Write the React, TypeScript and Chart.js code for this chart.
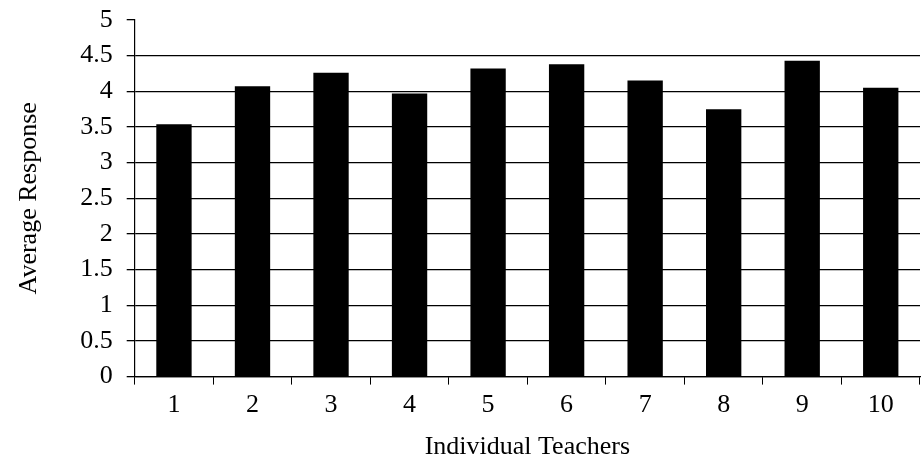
import React, { useEffect, useRef } from "react";
import { Chart, registerables } from "chart.js";

Chart.register(...registerables);

const teachers = ["1", "2", "3", "4", "5", "6", "7", "8", "9", "10"];
const averageResponse = [3.54, 4.07, 4.26, 3.97, 4.32, 4.38, 4.15, 3.75, 4.43, 4.05];
const yTitle = "Average Response";
const xTitle = "Individual Teachers";

export default function App() {
  const ref = useRef<HTMLCanvasElement | null>(null);
  useEffect(() => {
    if (!ref.current) return;
    const font = "'Liberation Serif', 'Times New Roman', serif";
    const chart = new Chart(ref.current, {
      type: "bar",
      data: {
        labels: teachers,
        datasets: [
          {
            data: averageResponse,
            backgroundColor: "#000",
            borderWidth: 0,
            barPercentage: 0.45,
            categoryPercentage: 1,
          },
        ],
      },
      options: {
        animation: false,
        responsive: false,
        devicePixelRatio: 1,
        plugins: { legend: { display: false }, tooltip: { enabled: false } },
        layout: { padding: { top: 0, right: 2, left: 2, bottom: 0 } },
        scales: {
          x: {
            grid: {
              drawOnChartArea: false,
              drawTicks: true,
              tickLength: 8,
              offset: true,
              color: "#000",
            },
            border: { display: true, color: "#000", width: 1.2 },
            ticks: { color: "#000", font: { family: font, size: 26 }, padding: 5, maxRotation: 0 },
            title: {
              display: true,
              text: xTitle,
              color: "#000",
              font: { family: font, size: 26 },
              padding: { top: 6, bottom: 3 },
            },
          },
          y: {
            min: 0,
            max: 5,
            afterFit: (s: any) => {
              s.paddingTop = 20;
            },
            ticks: {
              stepSize: 0.5,
              color: "#000",
              font: { family: font, size: 26 },
              padding: 14,
              callback: (v: any) => String(Number(v)),
            },
            grid: {
              color: (ctx: any) => (ctx.tick && ctx.tick.value === 5 ? "rgba(0,0,0,0)" : "#000"),
              tickColor: "#000",
              tickLength: 8,
              lineWidth: 1.3,
            },
            border: { display: true, color: "#000", width: 1.2 },
            title: {
              display: true,
              text: yTitle,
              color: "#000",
              font: { family: font, size: 26 },
              padding: { top: 12, bottom: 21 },
            },
          },
        },
      },
    });
    return () => chart.destroy();
  }, []);
  return (
    <div style={{ position: "fixed", left: 0, top: 0, width: 922, height: 466, background: "#fff" }}>
      <canvas ref={ref} width={922} height={466} />
    </div>
  );
}
